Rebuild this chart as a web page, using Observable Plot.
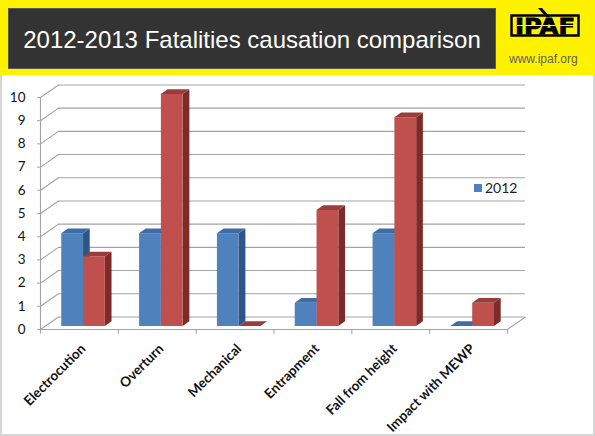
<!DOCTYPE html>
<html>
<head>
<meta charset="utf-8">
<script src="https://cdn.jsdelivr.net/npm/d3@7"></script>
<script src="https://cdn.jsdelivr.net/npm/@observablehq/plot@0.6"></script>
<style>
  html, body { margin: 0; padding: 0; background: #fff; }
  #page { position: relative; width: 595px; height: 436px; overflow: hidden; background: #fff; }
  #banner { position: absolute; left: 0; top: 0; width: 595px; height: 75px; background: #FFF200; }
  #titlebox { position: absolute; left: 8px; top: 8px; width: 488px; height: 61px; box-sizing: border-box;
    background: #333333; border: 1px solid #5a5a5a; color: #fff; font-family: "Liberation Sans", Arial, sans-serif;
    font-size: 24px; display: flex; align-items: center; justify-content: center; padding-top: 3px; }
  #logo { position: absolute; left: 505px; top: 4px; }
  #url { position: absolute; left: 509px; top: 52px; font-family: "Liberation Sans", Arial, sans-serif; font-size: 12px; color: #5f5f5f; }
  #chart { position: absolute; left: 0; top: 75px; }
  #legend { position: absolute; left: 474px; top: 179px; font-family: Lato, "Open Sans", sans-serif; font-size: 14px; color: #222; display: flex; align-items: center; }
  #legend span.sw { display: inline-block; width: 8px; height: 8px; background: #4F81BD; margin-right: 3px; }
  #frame { position: absolute; left: 0; top: 0; width: 595px; height: 436px; box-sizing: border-box;
    border-left: 2px solid #d6d6d6; border-right: 2px solid #d6d6d6; border-bottom: 2px solid #d6d6d6; pointer-events: none; }
</style>
</head>
<body>
<div id="page">
  <div id="chart"></div>
  <div id="legend"><span class="sw"></span><span>2012</span></div>
  <div id="frame"></div>
  <div id="banner">
    <div id="titlebox">2012-2013 Fatalities causation comparison</div>
    <svg id="logo" width="85" height="40" viewBox="0 0 85 40">
      <rect x="6.5" y="11.5" width="67" height="20" fill="none" stroke="#000" stroke-width="2.5"/>
      <text x="40" y="30" text-anchor="middle" font-family="DejaVu Sans" font-weight="bold" font-size="21" fill="#000" stroke="#000" stroke-width="0.8" textLength="60" lengthAdjust="spacingAndGlyphs">IPAF</text>
      <line x1="12" y1="21.5" x2="70" y2="21.5" stroke="#FFF200" stroke-width="1"/>
      <polygon points="33,4 37,4 45,13 41,13" fill="#000"/>
    </svg>
    <div id="url">www.ipaf.org</div>
  </div>
</div>
<script>
// ---- data ----
const categories = ["Electrocution", "Overturn", "Mechanical", "Entrapment", "Fall from height", "Impact with MEWP"];
const seriesNames = ["2012", "2013"];
const values2012 = [4, 4, 4, 1, 4, 0];
const values2013 = [3, 10, 0, 5, 9, 1];
const yTicks = [0, 1, 2, 3, 4, 5, 6, 7, 8, 9, 10];

// ---- styling / 3D geometry (in data units) ----
const frontColors = ["#4F81BD", "#C0504D"];
const topColors = ["#3D6CA6", "#9A3C39"];
const sideColors = ["#2D5586", "#7C2B29"];
const BX = 0.231, BY = 0.54;    // back wall offset
const OX = 0.053, OY = 0.13;    // bar front offset from front plane
const DX = 0.086, DY = 0.205;   // bar depth
const W = 0.28;                 // bar width
const N = categories.length;

const bars = [];
categories.forEach((c, i) => {
  [values2012, values2013].forEach((vals, s) => {
    const center = i + 0.5 + OX;
    const x0 = s === 0 ? center - W : center;
    bars.push({id: i + "-" + s, s, x0, x1: x0 + W, v: vals[i]});
  });
});
const sidePts = bars.flatMap(b => [
  {id: b.id, s: b.s, x: b.x1, lo: OY, hi: b.v + OY},
  {id: b.id, s: b.s, x: b.x1 + DX, lo: OY + DY, hi: b.v + OY + DY}
]);
const topPts = bars.flatMap(b => [
  {id: b.id, s: b.s, y: b.v + OY, a: b.x0, b: b.x1},
  {id: b.id, s: b.s, y: b.v + OY + DY, a: b.x0 + DX, b: b.x1 + DX}
]);

const grid = "#a3a3a3";
const marks = [
  Plot.ruleY(yTicks, {y: d => d + BY, x1: BX, x2: N + BX, stroke: grid, strokeWidth: 1.1}),
  Plot.link(yTicks, {x1: 0, y1: d => d, x2: BX, y2: d => d + BY, stroke: grid, strokeWidth: 1.1}),
  Plot.link([0], {x1: 0, y1: 0, x2: N, y2: 0, stroke: grid, strokeWidth: 1.1}),
  Plot.link([0], {x1: N, y1: 0, x2: N + BX, y2: BY, stroke: grid, strokeWidth: 1.1}),
  Plot.ruleX(d3.range(0, N + 1), {x: d => d, y1: 0, y2: -0.2, stroke: grid, strokeWidth: 1.1}),
  Plot.ruleX([0], {x: 0, y1: 0, y2: 10, stroke: grid, strokeWidth: 1.1}),
  Plot.axisY({ticks: yTicks, tickSize: 3, tickPadding: 12, fontSize: 13.5, fontFamily: "Lato, 'Open Sans', sans-serif", stroke: grid, color: "#111", label: null}),
];
[0, 1].forEach(s => {
  marks.push(Plot.areaY(sidePts.filter(d => d.s === s), {x: "x", y1: "lo", y2: "hi", z: "id", fill: sideColors[s]}));
});
[0, 1].forEach(s => {
  marks.push(Plot.areaX(topPts.filter(d => d.s === s), {y: "y", x1: "a", x2: "b", z: "id", fill: topColors[s]}));
});
[0, 1].forEach(s => {
  marks.push(Plot.rect(bars.filter(d => d.s === s), {x1: "x0", x2: "x1", y1: OY, y2: d => d.v + OY, fill: frontColors[s], inset: 0}));
});
marks.push(Plot.text(categories, {
  x: (d, i) => i + 0.5, y: 0, text: d => d, rotate: -45, textAnchor: "end",
  dx: 4, dy: 17, fontSize: 13.5, fontWeight: "bold", fontFamily: "Lato, 'Open Sans', sans-serif", fill: "#111"
}));

const chart = Plot.plot({
  width: 595,
  height: 359,
  marginLeft: 40,
  marginRight: 88,
  marginTop: 22,
  marginBottom: 105,
  x: {domain: [0, N], axis: null},
  y: {domain: [0, 10], axis: null},
  style: {background: "transparent", overflow: "visible"},
  marks
});
document.getElementById("chart").appendChild(chart);
</script>
</body>
</html>
